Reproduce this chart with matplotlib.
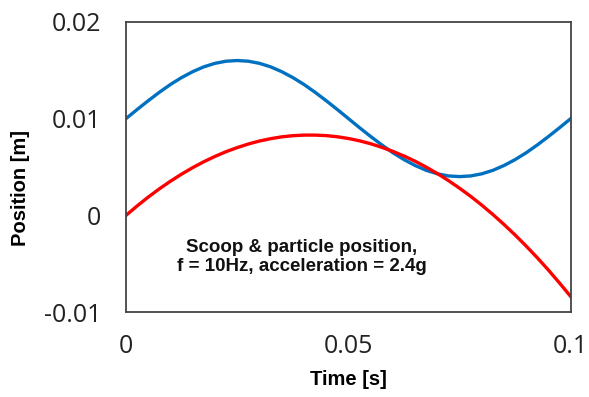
import matplotlib.pyplot as plt

# Time samples [s]
time_s = [0.0, 0.0025, 0.005, 0.0075, 0.01, 0.0125, 0.015, 0.0175, 0.02, 0.0225,
          0.025, 0.0275, 0.03, 0.0325, 0.035, 0.0375, 0.04, 0.0425, 0.045, 0.0475,
          0.05, 0.0525, 0.055, 0.0575, 0.06, 0.0625, 0.065, 0.0675, 0.07, 0.0725,
          0.075, 0.0775, 0.08, 0.0825, 0.085, 0.0875, 0.09, 0.0925, 0.095, 0.0975, 0.1]
# Scoop position [m]
scoop_pos = [0.0100, 0.01094, 0.01185, 0.01272, 0.01353, 0.01424, 0.01485, 0.01535,
             0.01571, 0.01593, 0.0160, 0.01593, 0.01571, 0.01535, 0.01485, 0.01424,
             0.01353, 0.01272, 0.01185, 0.01094, 0.0100, 0.00906, 0.00815, 0.00728,
             0.00647, 0.00576, 0.00515, 0.00465, 0.00429, 0.00407, 0.0040, 0.00407,
             0.00429, 0.00465, 0.00515, 0.00576, 0.00647, 0.00728, 0.00815, 0.00906, 0.0100]
# Particle position [m]
particle_pos = [0.0, 0.00097, 0.00189, 0.00274, 0.00353, 0.00426, 0.00493, 0.00554,
                0.00609, 0.00658, 0.00700, 0.00737, 0.00768, 0.00792, 0.00811, 0.00823,
                0.00829, 0.00829, 0.00824, 0.00812, 0.00794, 0.00770, 0.00740, 0.00703,
                0.00661, 0.00613, 0.00559, 0.00498, 0.00432, 0.00359, 0.00280, 0.00196,
                0.00105, 0.00008, -0.00095, -0.00204, -0.00319, -0.00440, -0.00567,
                -0.00701, -0.00840]

x_ticks = [0, 0.05, 0.1]
x_tick_labels = ['0', '0.05', '0.1']
y_ticks = [-0.01, 0, 0.01, 0.02]
y_tick_labels = ['-0.01', '0', '0.01', '0.02']

fig = plt.figure(figsize=(5.89, 3.97), dpi=100)
ax = fig.add_axes([0.214, 0.214, 0.755, 0.731])

ax.plot(time_s, scoop_pos, color='#0070C0', linewidth=2.4)
ax.plot(time_s, particle_pos, color='#FF0000', linewidth=2.4)

ax.set_xlim(0, 0.1)
ax.set_ylim(-0.01, 0.02)
ax.set_xticks(x_ticks)
ax.set_xticklabels(x_tick_labels, fontfamily='Open Sans', fontsize=18, color='#222222')
ax.set_yticks(y_ticks)
ax.set_yticklabels(y_tick_labels, fontfamily='Open Sans', fontsize=18, color='#222222')
ax.tick_params(axis='x', length=0, pad=16)
ax.tick_params(axis='y', length=0, pad=18)

for spine in ax.spines.values():
    spine.set_color('#444444')
    spine.set_linewidth(1.3)

ax.set_xlabel('Time [s]', fontfamily='Liberation Sans', fontweight='bold', fontsize=14.5, labelpad=8)
ax.set_ylabel('Position [m]', fontfamily='Liberation Sans', fontweight='bold', fontsize=14.5)
ax.yaxis.set_label_coords(-0.216, 0.428)

ax.text(0.0395, -0.0043, 'Scoop & particle position,\nf = 10Hz, acceleration = 2.4g',
        ha='center', va='center', fontfamily='Liberation Sans', fontweight='bold',
        fontsize=13.5, linespacing=1.2, color='#111111')

fig.savefig('out.png', dpi=100)
